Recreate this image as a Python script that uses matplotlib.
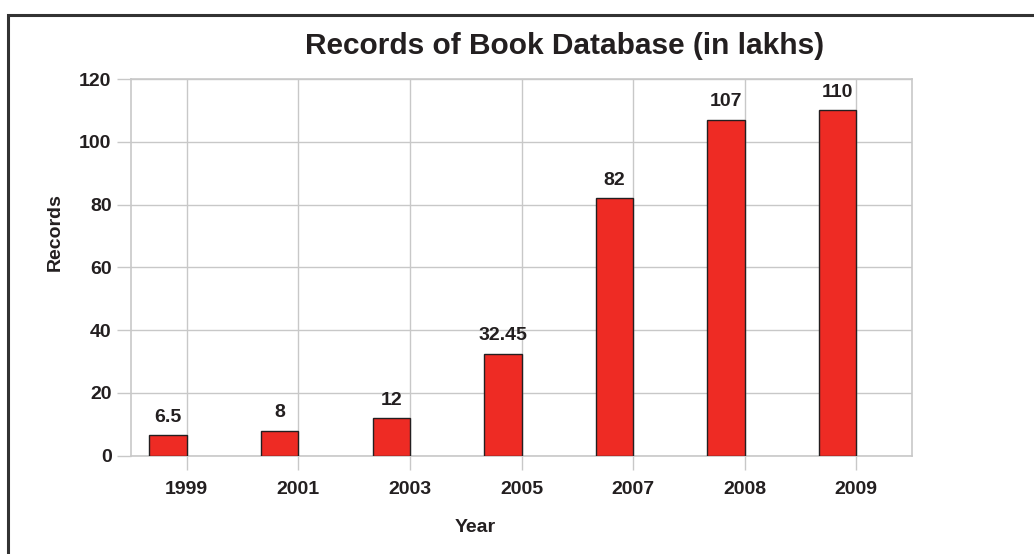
import matplotlib
matplotlib.use("Agg")
import matplotlib.pyplot as plt
from matplotlib.patches import Rectangle

years = ["1999", "2001", "2003", "2005", "2007", "2008", "2009"]
records = [6.5, 8, 12, 32.45, 82, 107, 110]
value_labels = ["6.5", "8", "12", "32.45", "82", "107", "110"]
y_ticks = [0, 20, 40, 60, 80, 100, 120]

plt.rcParams['font.family'] = ['Liberation Sans', 'DejaVu Sans']
W, H = 1034, 554
fig = plt.figure(figsize=(W/100, H/100), dpi=100)

# outer frame
fig.add_artist(Rectangle((8/W, -0.1), 1.2, (H-15)/H + 0.1, transform=fig.transFigure,
                         fill=False, edgecolor='#333333', linewidth=2.2))

left, right, top, bottom = 131, 912, 79, 455.7
ax = fig.add_axes([left/W, 1 - bottom/H, (right-left)/W, (bottom-top)/H])

x = list(range(len(years)))
ax.bar(x, records, width=-0.335, align='edge', color='#ee2b24',
       edgecolor='#231f20', linewidth=1.0, zorder=3)

for xi, v, lab in zip(x, records, value_labels):
    ax.text(xi - 0.335/2, v + 3.0, lab, ha='center', va='bottom',
            fontsize=14, fontweight='bold', color='#231f20')

ax.set_xlim(-0.5, len(years) - 0.5)
ax.set_ylim(0, 120)
ax.set_xticks(x)
ax.set_xticklabels(years, fontsize=14, fontweight='bold', color='#231f20')
ax.set_yticks(y_ticks)
ax.set_yticklabels([str(t) for t in y_ticks], fontsize=14, fontweight='bold', color='#231f20')
ax.tick_params(axis='both', length=10, color='#c8c8c8', width=1)
ax.tick_params(axis='x', pad=8)
ax.tick_params(axis='y', pad=4)
ax.grid(True, color='#c8c8c8', linewidth=1, zorder=0)
ax.set_axisbelow(True)
for s in ax.spines.values():
    s.set_color('#c8c8c8')
    s.set_linewidth(1.2)

fig.text(565/W, 1 - 46/H, "Records of Book Database (in lakhs)", ha='center', va='center',
         fontsize=21.5, fontweight='bold', color='#231f20')
fig.text(475/W, 1 - 527/H, "Year", ha='center', va='center',
         fontsize=14, fontweight='bold', color='#231f20')
fig.text(55/W, 1 - 232/H, "Records", ha='center', va='center', rotation=90,
         fontsize=14, fontweight='bold', color='#231f20')

fig.savefig("out.png", dpi=100)
